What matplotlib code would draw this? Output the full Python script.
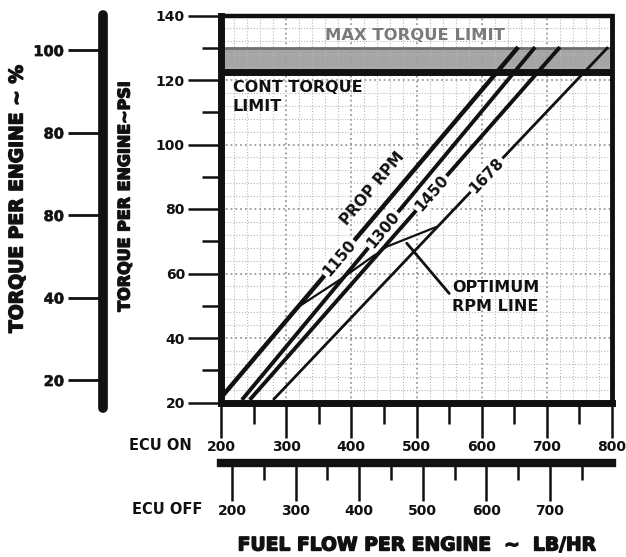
import numpy as np
import matplotlib
matplotlib.use("Agg")
import matplotlib.pyplot as plt
import matplotlib.patheffects as pe

# values (fuel flow on the ECU ON scale, torque in psi)
rpm_labels = ["1150", "1300", "1450", "1678"]
line_flow = [[200, 656], [232, 682], [244, 720], [280, 794]]
line_psi = [[21.5, 130.2], [20.8, 130.2], [20.8, 130.2], [20.8, 130.2]]
line_lw = [3.2, 2.8, 2.8, 2.0]
label_psi = [64.8, 73.5, 84.9, 90.5]

opt_flow = [319, 382, 454, 530]
opt_psi = [49.7, 58.0, 68.3, 74.4]

max_torque = 129.8
cont_torque = 122.6

psi_ticks = [20, 40, 60, 80, 100, 120, 140]
psi_minor = [30, 50, 70, 90, 110, 130]
pct_ticks = [20, 40, 60, 80, 100]
pct_labels = ["20", "40", "80", "80", "100"]
on_ticks = [200, 300, 400, 500, 600, 700, 800]
on_minor = [250, 350, 450, 550, 650, 750]
off_ticks = [200, 300, 400, 500, 600, 700]
off_minor = [250, 350, 450, 550, 650, 750]

W, H = 626, 557
ink = "#111111"
# thicker lettering: draw the glyph outline with a stroke
heavy = [pe.PathPatchEffect(edgecolor=ink, facecolor=ink, linewidth=1.0)]
semi = [pe.PathPatchEffect(edgecolor=ink, facecolor=ink, linewidth=0.5)]
plt.rcParams["font.family"] = "DejaVu Sans"
plt.rcParams["font.weight"] = "bold"


def fx(px):
    return px / W


def fy(py):
    return 1 - py / H


# ECU OFF scale mapped onto ECU ON scale
def off2on(v):
    return 216.9 + (np.asarray(v) - 200) * 0.9758


def on2off(v):
    return 200 + (np.asarray(v) - 216.9) / 0.9758


fig = plt.figure(figsize=(W / 100, H / 100), dpi=100)
ax = fig.add_axes([fx(221), fy(402.5), 391 / W, 387 / H])
ax.set_xlim(200, 800)
ax.set_ylim(20, 140)

# graph paper grid
for g in np.arange(220, 800, 20):
    major = g % 100 == 0
    ax.axvline(g, color="#9a9a9a" if major else "#b8b8b8", lw=1.3 if major else 0.8,
               ls=":", zorder=2)
for g in np.arange(24, 140, 4):
    major = g % 20 == 0
    ax.axhline(g, color="#9a9a9a" if major else "#b8b8b8", lw=1.3 if major else 0.8,
               ls=":", zorder=2)

# torque limits
ax.fill_between([204, 800], cont_torque, max_torque, color="#8f8f8f", alpha=0.8,
                lw=0, zorder=1)
ax.plot([204, 800], [max_torque, max_torque], color="#6e6e6e", lw=2, zorder=3)
ax.plot([204, 800], [cont_torque, cont_torque], color=ink, lw=5, zorder=3)
ax.text(497.7, 133.95, "MAX TORQUE LIMIT", color="#7a7a7a", fontsize=11.8,
        ha="center", va="center", zorder=5)
ax.text(218.4, 120.0, "CONT TORQUE\nLIMIT", color=ink, fontsize=11.5,
        ha="left", va="top", linespacing=1.3, zorder=5)

# prop rpm lines
for lab, fl, ps, lw, lp in zip(rpm_labels, line_flow, line_psi, line_lw, label_psi):
    ax.plot(fl, ps, color=ink, lw=lw, solid_capstyle="butt", zorder=4)
    p0 = ax.transData.transform((fl[0], ps[0]))
    p1 = ax.transData.transform((fl[1], ps[1]))
    ang = np.degrees(np.arctan2(p1[1] - p0[1], p1[0] - p0[0]))
    xl = np.interp(lp, ps, fl)
    ax.text(xl, lp, lab, color=ink, fontsize=11, rotation=ang, rotation_mode="anchor",
            ha="center", va="center", zorder=6,
            bbox=dict(boxstyle="square,pad=0.12", facecolor="white", edgecolor="none"))
ax.text(432, 86.4, "PROP RPM", color=ink, fontsize=11, rotation=50,
        rotation_mode="anchor", ha="center", va="center", zorder=6)

# optimum rpm line
ax.plot(opt_flow, opt_psi, color=ink, lw=1.6, zorder=4)
ax.annotate("OPTIMUM\nRPM LINE", xy=(485, 69.4), xytext=(554.5, 58.0),
            textcoords="data", ha="left", va="top", fontsize=11.5, color=ink,
            linespacing=1.3, zorder=6,
            arrowprops=dict(arrowstyle="-", color=ink, lw=2, shrinkA=0, shrinkB=0,
                            relpos=(0, 0.5)))

# frame and ticks
for side, lw in [("left", 5), ("bottom", 5), ("top", 3.2), ("right", 3.5)]:
    ax.spines[side].set_linewidth(lw)
    ax.spines[side].set_color(ink)
    ax.spines[side].set_zorder(7)
ax.set_yticks(psi_ticks)
ax.set_yticks(psi_minor, minor=True)
ax.set_xticks(on_ticks)
ax.set_xticks(on_minor, minor=True)
ax.tick_params(axis="y", which="major", direction="out", length=24, width=1.8,
               pad=2, labelsize=10, colors=ink)
ax.tick_params(axis="y", which="minor", direction="out", length=14, width=1.8, colors=ink)
ax.tick_params(axis="x", which="major", direction="out", length=25, width=1.8,
               pad=2, labelsize=10, colors=ink)
ax.tick_params(axis="x", which="minor", direction="out", length=15, width=1.8, colors=ink)

# ECU OFF scale
sec = ax.secondary_xaxis(-60 / 387, functions=(on2off, off2on))
sec.set_xticks(off_ticks)
sec.set_xticks(off_minor, minor=True)
sec.spines["bottom"].set_linewidth(6)
sec.spines["bottom"].set_color(ink)
sec.tick_params(axis="x", which="major", direction="out", length=27, width=1.8,
                pad=3, labelsize=10, colors=ink)
sec.tick_params(axis="x", which="minor", direction="out", length=12.5, width=1.8,
                colors=ink)

# percent scale
axp = fig.add_axes([fx(103), fy(408), 0.0001, 393 / H])
axp.set_ylim(100 - (408 - 50) / 4.125, 100 + 35 / 4.125)
axp.set_xticks([])
for side in ["right", "top", "bottom"]:
    axp.spines[side].set_visible(False)
axp.spines["left"].set_linewidth(7)
axp.spines["left"].set_color(ink)
axp.spines["left"].set_capstyle("round")
axp.set_yticks(pct_ticks)
axp.set_yticklabels(pct_labels)
axp.tick_params(axis="y", direction="out", length=25, width=2, pad=3,
                labelsize=10.5, colors=ink)
for t in axp.get_yticklabels():
    t.set_path_effects(semi)

# axis titles
fig.text(fx(17), fy(199), "TORQUE PER ENGINE ~ %", rotation=90, ha="center",
         va="center", fontsize=13.5, color=ink, path_effects=heavy)
fig.text(fx(125), fy(196), "TORQUE PER ENGINE~PSI", rotation=90, ha="center",
         va="center", fontsize=11.5, color=ink, path_effects=heavy)
fig.text(fx(192), fy(446), "ECU ON", ha="right", va="center", fontsize=10.5, color=ink)
fig.text(fx(202), fy(510), "ECU OFF", ha="right", va="center", fontsize=10.5, color=ink)
fig.text(fx(417), fy(545), "FUEL FLOW PER ENGINE  ~  LB/HR", ha="center", va="center",
         fontsize=13.5, color=ink, path_effects=heavy)

fig.savefig("out.png", dpi=100)
